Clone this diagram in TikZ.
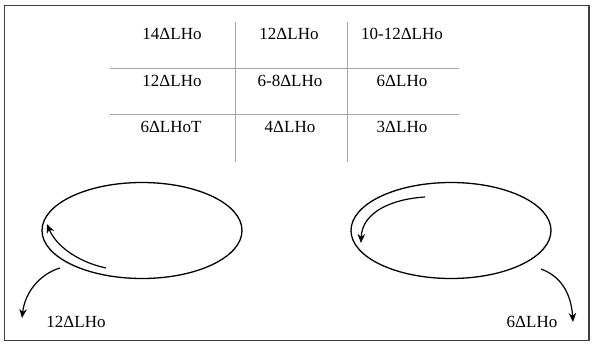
\documentclass[tikz,border=0pt]{standalone}
\usepackage{fontspec}
\setmainfont{Liberation Serif}
\usetikzlibrary{shapes.geometric,arrows.meta}
\begin{document}
\begin{tikzpicture}[x=1pt,y=-1pt,
  cell/.style={anchor=base,inner sep=0pt,font=\fontsize{17}{19}\selectfont},
  grid/.style={draw=black!35,line width=1pt},
  loop/.style={draw,ellipse,line width=1.3pt,minimum width=200pt,minimum height=96pt,inner sep=0pt},
  flow/.style={line width=1.2pt,-{Stealth[length=9pt,width=7.5pt]}}]
\useasboundingbox (0,0) rectangle (592,345);
\draw[draw=black!75,line width=1.4pt] (4.5,5.5) rectangle (589,340.5);
% table
\coordinate (v1t) at (235,22); \coordinate (v1b) at (235,162);
\coordinate (v2t) at (347,22); \coordinate (v2b) at (347,162);
\coordinate (h1l) at (110,69); \coordinate (h1r) at (459,69);
\coordinate (h2l) at (110,114); \coordinate (h2r) at (459,114);
\draw[grid] (v1t) -- (v1b);
\draw[grid] (v2t) -- (v2b);
\draw[grid] (h1l) -- (h1r);
\draw[grid] (h2l) -- (h2r);
\node[cell] (a1) at (172,40) {14ΔLHo};
\node[cell] (a2) at (289,40) {12ΔLHo};
\node[cell] (a3) at (402,40) {10-12ΔLHo};
\node[cell] (b1) at (172,86) {12ΔLHo};
\node[cell] (b2) at (290,86) {6-8ΔLHo};
\node[cell] (b3) at (402,86) {6ΔLHo};
\node[cell] (c1) at (171,132) {6ΔLHoT};
\node[cell] (c2) at (290,132) {4ΔLHo};
\node[cell] (c3) at (402,132) {3ΔLHo};
% loops
\node[loop] (L) at (142,230.5) {};
\node[loop] (R) at (451,230.5) {};
% left arrows
\coordinate (li0) at (106,268); \coordinate (li1) at (47,224);
\draw[flow] (li0) .. controls (78,262) and (56,246) .. (li1);
\coordinate (lo0) at (60,268); \coordinate (lo1) at (22,318);
\draw[flow] (lo0) .. controls (40,274) and (25,292) .. (lo1);
\node[cell] (lt) at (76,327) {12ΔLHo};
% right arrows
\coordinate (ri0) at (425,197); \coordinate (ri1) at (361,243);
\draw[flow] (ri0) .. controls (392,199) and (362,212) .. (ri1);
\coordinate (ro0) at (541,269); \coordinate (ro1) at (573,322);
\draw[flow] (ro0) .. controls (560,276) and (571,292) .. (ro1);
\node[cell] (rt) at (532,327) {6ΔLHo};
\end{tikzpicture}
\end{document}
